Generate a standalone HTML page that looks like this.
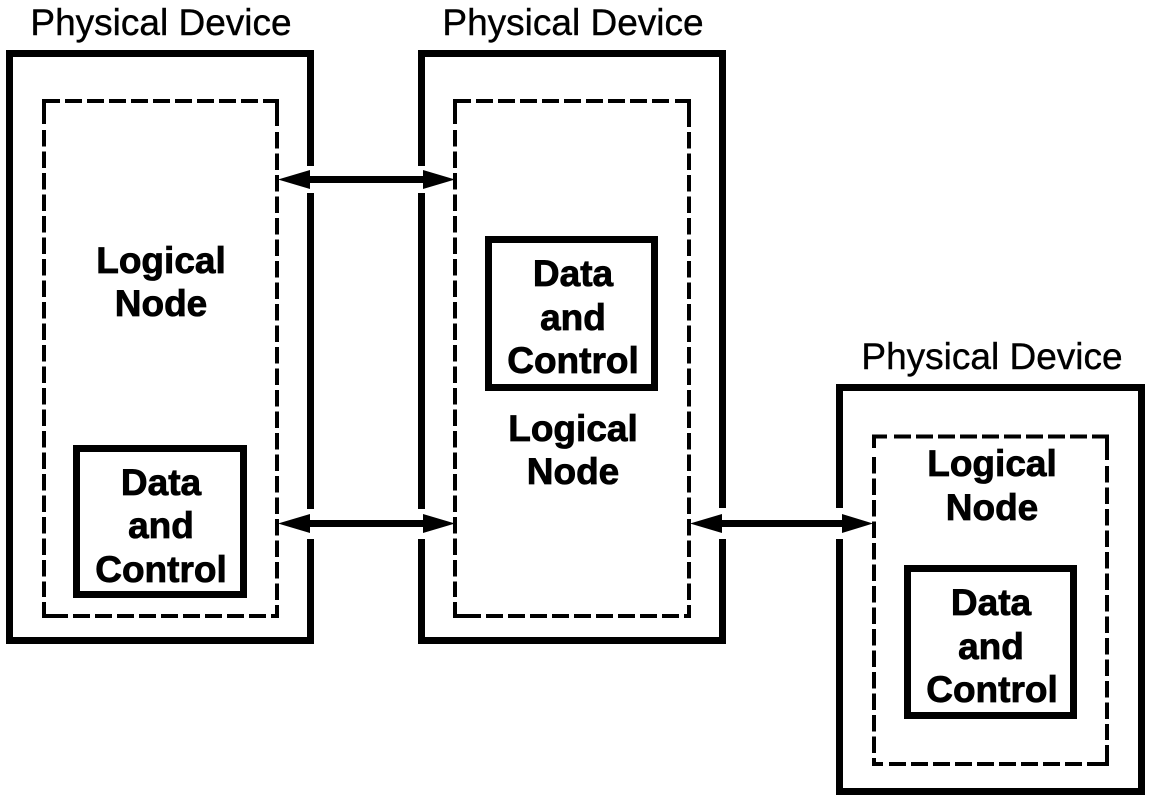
<!DOCTYPE html>
<html><head><meta charset="utf-8"><style>
html,body{margin:0;padding:0;background:#fff;width:1151px;height:799px;overflow:hidden}
svg{display:block}
text{font-family:"Liberation Sans",Arial,sans-serif;font-size:37px;fill:#000;text-anchor:middle;stroke:#000;stroke-width:.4px}
text.b{font-weight:bold;stroke-width:.8px}
.o{fill:none;stroke:#000;stroke-width:7}
.c{fill:none;stroke:#000;stroke-width:4;stroke-linejoin:miter}
.h{fill:none;stroke:#000;stroke-width:4;stroke-dasharray:17 5}
.v{fill:none;stroke:#000;stroke-width:4;stroke-dasharray:16.5 5}
.w{fill:#fff}
</style></head><body>
<svg width="1151" height="799" viewBox="0 0 1151 799" shape-rendering="crispEdges">
<rect class="o" x="9.500" y="53.500" width="301" height="587"/>
<rect class="o" x="421.500" y="53.500" width="301" height="587"/>
<rect class="o" x="839.500" y="387.500" width="302" height="404"/>

<path class="c" d="M60 101H44V124"/><path class="h" d="M65 101H258"/><path class="c" d="M263 101H277V126"/>
<path class="v" d="M44 130V597"/><path class="v" d="M277 132V600"/>
<path class="c" d="M44 602V616H68"/><path class="h" d="M73 616H266"/><path class="c" d="M271 616H277V605"/>

<path class="c" d="M471 101H455V124"/><path class="h" d="M476 101H670"/><path class="c" d="M675 101H689V127"/>
<path class="v" d="M455 130V597"/><path class="v" d="M689 132V600"/>
<path class="c" d="M455 602V616H481"/><path class="h" d="M486 616H679"/><path class="c" d="M684 616H689V605"/>

<path class="c" d="M887 436.500H874V448"/><path class="h" d="M894 436.500H1087"/><path class="c" d="M1092 436.500H1107V460"/>
<path class="v" d="M874 457V753"/><path class="v" d="M1107 466V740"/>
<path class="c" d="M874 758V764H883"/><path class="h" d="M889 764H1082"/><path class="c" d="M1087 764H1107V745"/>

<rect class="o" x="76.500" y="448.500" width="167" height="146"/>
<rect class="o" x="488.500" y="239.500" width="166" height="148"/>
<rect class="o" x="907.500" y="568.500" width="166" height="147"/>
<g shape-rendering="auto">
<rect class="w" x="305" y="166" width="12" height="27"/><rect class="w" x="415" y="166" width="14" height="27"/>
<rect class="w" x="305" y="509" width="12" height="30"/><rect class="w" x="415" y="509" width="14" height="30"/>
<rect class="w" x="716" y="508" width="12" height="31"/><rect class="w" x="834" y="508" width="12" height="31"/>
<path d="M278 179.500L310 170V176H423V170L455 179.500L423 189V183H310V189Z"/>
<path d="M278 523.500L310 514V520H423V514L455 523.500L423 533V527H310V533Z"/>
<path d="M690 523.500L722 514V520H842V514L873 523.500L842 533V527H722V533Z"/>
<text x="161" y="35">Physical Device</text>
<text x="573" y="35">Physical Device</text>
<text x="992" y="369">Physical Device</text>
<text class="b" x="161" y="273">Logical</text>
<text class="b" x="161" y="316">Node</text>
<text class="b" x="161" y="495">Data</text>
<text class="b" x="161" y="538">and</text>
<text class="b" x="161" y="582">Control</text>
<text class="b" x="573" y="286">Data</text>
<text class="b" x="573" y="330">and</text>
<text class="b" x="573" y="373">Control</text>
<text class="b" x="573" y="441">Logical</text>
<text class="b" x="573" y="484">Node</text>
<text class="b" x="992" y="476">Logical</text>
<text class="b" x="992" y="520">Node</text>
<text class="b" x="991" y="615">Data</text>
<text class="b" x="991" y="659">and</text>
<text class="b" x="992" y="702">Control</text>
</g>
</svg>
</body></html>
